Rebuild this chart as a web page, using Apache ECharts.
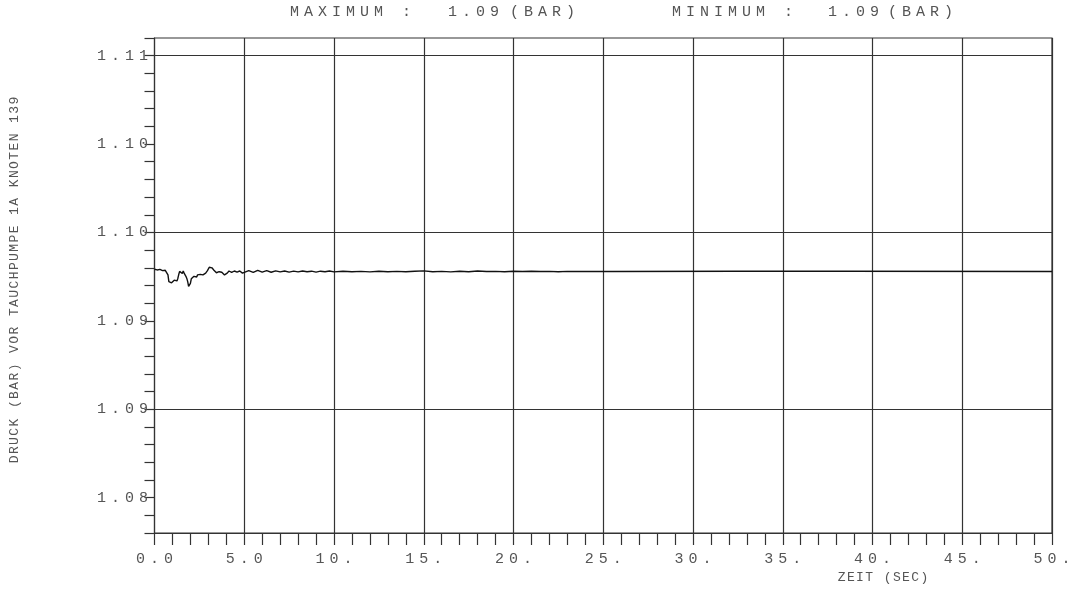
<!DOCTYPE html>
<html>
<head>
<meta charset="utf-8">
<script src="https://cdn.jsdelivr.net/npm/echarts@6/dist/echarts.min.js"></script>
<style>html,body{margin:0;padding:0;background:#fff;}#c{width:1086px;height:591px;}</style>
</head>
<body>
<div id="c"></div>
<script>
// ---- data ----
const times = [
  0.00,0.05,0.10,0.15,0.20,0.25,0.30,0.35,0.40,0.45,0.50,0.55,0.60,0.65,0.70,
  0.75,0.80,0.85,0.90,0.95,1.00,1.05,1.10,1.15,1.20,1.25,1.30,1.35,1.40,1.45,
  1.50,1.55,1.60,1.65,1.70,1.75,1.80,1.85,1.90,1.95,2.00,2.05,2.10,2.15,2.20,
  2.25,2.30,2.35,2.40,2.45,2.50,2.55,2.60,2.65,2.70,2.75,2.80,2.85,2.90,2.95,
  3.00,3.05,3.10,3.15,3.20,3.25,3.30,3.35,3.40,3.45,3.50,3.55,3.60,3.65,3.70,
  3.75,3.80,3.85,3.90,3.95,4.00,4.05,4.10,4.15,4.20,4.25,4.30,4.35,4.40,4.45,
  4.50,4.55,4.60,4.65,4.70,4.75,4.80,4.85,4.90,4.95,5.00,
  5.25,5.5,5.75,6.0,6.25,6.5,6.75,7.0,7.25,7.5,7.75,8.0,8.25,8.5,8.75,9.0,9.25,9.5,9.75,10.0,
  10.5,11,11.5,12,12.5,13,13.5,14,14.5,15,15.5,16,16.5,17,17.5,18,18.5,19,19.5,20,
  20.5,21,21.5,22,22.5,23,23.5,24,24.5,25,25.5,32.4,32.5,38.4,38.5,50
];
const pressure = [
  1.09792,1.09786,1.09794,1.09788,1.09795,1.09785,1.09791,1.09787,1.09796,1.09784,1.09790,1.09793,1.09786,1.09792,1.09788,
  1.09760,1.09722,1.09712,1.09728,1.09715,1.09725,1.09718,1.09730,1.09721,1.09734,1.09726,1.09740,1.09762,1.09780,1.09771,
  1.09786,1.09768,1.09782,1.09770,1.09778,1.09752,1.09740,1.09722,1.09695,1.09690,1.09712,1.09738,1.09748,1.09742,1.09752,
  1.09745,1.09756,1.09748,1.09760,1.09752,1.09758,1.09763,1.09756,1.09766,1.09760,1.09768,1.09762,1.09770,1.09774,1.09784,
  1.09795,1.09803,1.09808,1.09806,1.09800,1.09796,1.09788,1.09782,1.09778,1.09772,1.09776,1.09770,1.09778,1.09774,1.09780,
  1.09775,1.09770,1.09765,1.09760,1.09758,1.09762,1.09770,1.09776,1.09782,1.09786,1.09780,1.09774,1.09770,1.09776,1.09782,
  1.09785,1.09780,1.09776,1.09772,1.09778,1.09782,1.09780,1.09775,1.09770,1.09766,1.09772,
  1.09784,1.09774,1.09786,1.09776,1.09784,1.09775,1.09783,1.09777,1.09782,1.09776,1.09781,1.09777,1.09782,1.09778,1.09781,1.09776,1.09781,1.09778,1.09782,1.09777,
  1.09781,1.09778,1.09780,1.09777,1.09781,1.09778,1.09780,1.09778,1.09781,1.09783,1.09778,1.09780,1.09777,1.09781,1.09778,1.09782,1.09779,1.09780,1.09778,1.09781,
  1.09779,1.09781,1.09779,1.09780,1.09778,1.09780,1.09779,1.09780,1.09779,1.09780,1.09779,1.09781,1.09779,1.09781,1.09779,1.09779
];
const xTickValues = [0,5,10,15,20,25,30,35,40,45,50];
const xTickLabels = ['0.0','5.0','10.','15.','20.','25.','30.','35.','40.','45.','50.'];
const yTickValues = [1.085,1.09,1.095,1.10,1.105,1.11];
const yTickLabels = ['1.08','1.09','1.09','1.10','1.10','1.11'];
const headerTexts = ['MAXIMUM :','1.09','(BAR)','MINIMUM :','1.09','(BAR)'];
const yAxisTitle = 'DRUCK (BAR) VOR TAUCHPUMPE 1A KNOTEN 139';
const xAxisTitle = 'ZEIT (SEC)';

// ---- helpers ----
function spaced(str, key) {
  return str.split('').map(ch => '{' + key + '|' + (ch === ' ' ? '\u00a0' : ch) + '}').join('');
}
const richStyles = {
  t: {fontFamily: 'Liberation Mono', fontSize: 15, color: '#555', padding: [0, 2.5, 0, 2.5], lineHeight: 16},
  n: {fontFamily: 'Liberation Mono', fontSize: 13, color: '#555', padding: [0, 0.7, 0, 0.7], lineHeight: 15}
};
function findLabel(v, vals, labels) {
  for (let i = 0; i < vals.length; i++) if (Math.abs(vals[i] - v) < 1e-7) return labels[i];
  return null;
}

const seriesData = times.map((t, i) => [t, pressure[i]]);
const gridLineStyle = {color: '#333', width: 1.2, type: 'solid'};
const markData = xTickValues.slice(1).map(v => ({xAxis: v}))
  .concat(yTickValues.map(v => ({yAxis: v})));

const headerX = [290, 448, 510, 672, 828, 888];
const graphics = headerTexts.map((s, i) => ({
  type: 'text', left: headerX[i] - 2.5, top: 5,
  style: {text: spaced(s, 't'), rich: richStyles, fill: '#555'}
}));
graphics.push({
  type: 'text', x: 15, y: 280, rotation: Math.PI / 2,
  style: {text: spaced(yAxisTitle, 'n'), rich: richStyles, align: 'center', verticalAlign: 'middle', fill: '#555'}
});
graphics.push({
  type: 'text', left: 837, top: 571,
  style: {text: spaced(xAxisTitle, 'n'), rich: richStyles, fill: '#555'}
});

const chart = echarts.init(document.getElementById('c'), null, {renderer: 'canvas'});
chart.setOption({
  animation: false,
  backgroundColor: '#fff',
  grid: {left: 154.5, right: 34, top: 38, bottom: 58, show: true, borderColor: '#333', borderWidth: 1.2, outerBoundsMode: 'none', containLabel: false},
  xAxis: {
    type: 'value', min: 0, max: 50, interval: 1,
    axisLine: {show: true, lineStyle: {color: '#333', width: 1.2}},
    axisTick: {show: true, length: 12, inside: false, lineStyle: {color: '#333', width: 1.2}},
    splitLine: {show: false},
    axisLabel: {
      show: true, margin: 18, showMinLabel: true, showMaxLabel: true, hideOverlap: false,
      formatter: function (v) { const l = findLabel(v, xTickValues, xTickLabels); return l ? spaced(l, 't') : ''; },
      rich: richStyles
    }
  },
  yAxis: {
    type: 'value', min: 1.083, max: 1.111, interval: 0.001,
    axisLine: {show: true, lineStyle: {color: '#333', width: 1.2}},
    axisTick: {show: true, length: 10, inside: false, lineStyle: {color: '#333', width: 1.2}},
    splitLine: {show: false},
    axisLabel: {
      show: true, margin: 4, showMinLabel: true, showMaxLabel: true, hideOverlap: false,
      formatter: function (v) { const l = findLabel(v, yTickValues, yTickLabels); return l ? spaced(l, 't') : ''; },
      rich: richStyles
    }
  },
  graphic: graphics,
  series: [{
    type: 'line', data: seriesData, showSymbol: false, symbol: 'none',
    lineStyle: {color: '#111', width: 1.4},
    z: 5,
    markLine: {
      silent: true, symbol: ['none', 'none'], label: {show: false},
      lineStyle: gridLineStyle, emphasis: {disabled: true}, animation: false,
      data: markData
    }
  }]
});
</script>
</body>
</html>
